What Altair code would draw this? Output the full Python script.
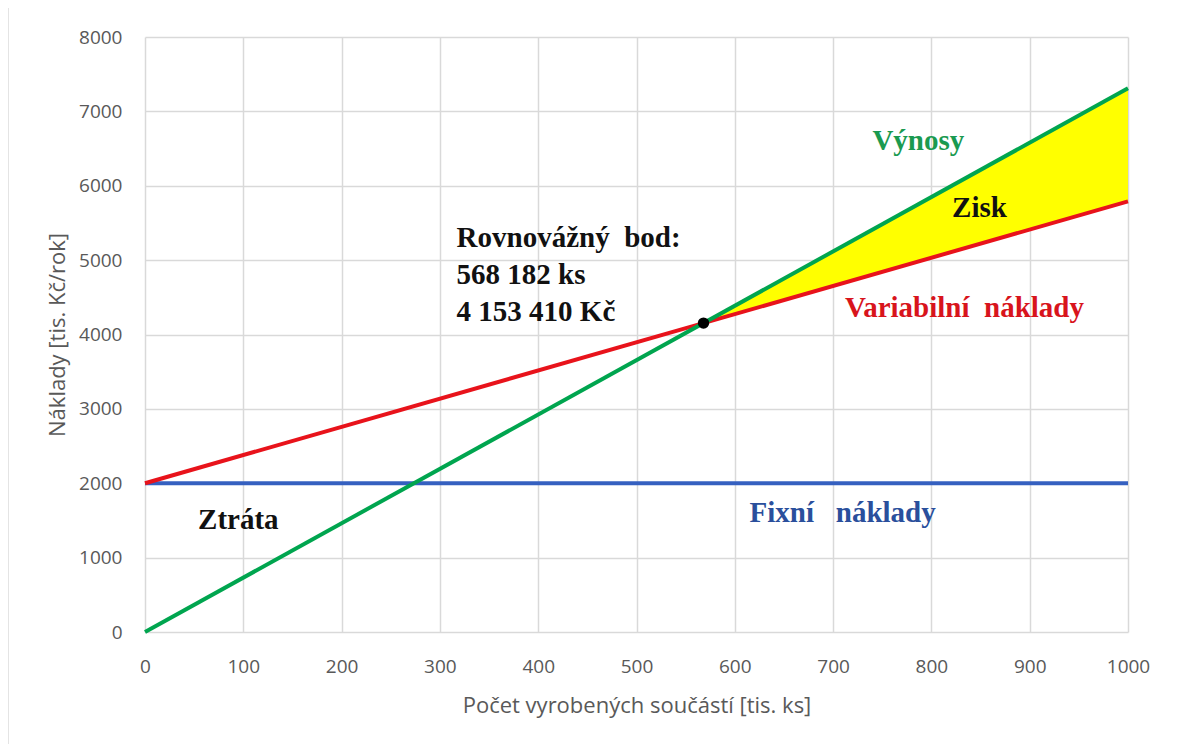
import altair as alt
import pandas as pd

# ---- data ----
x_vals = [0, 1000]                     # počet vyrobených součástí [tis. ks]
fixed_costs = [2000, 2000]             # fixní náklady
total_costs = [2000, 5790]             # variabilní (celkové) náklady
revenues = [0, 7310]                   # výnosy
series_names = ["Fixní náklady", "Variabilní náklady", "Výnosy"]
series_colors = ["#3560C0", "#E8131B", "#00A54F"]

be_x = 568.182                         # rovnovážný bod [tis. ks]
be_y = 4153.41                         # rovnovážný bod [tis. Kč]

profit_x = [be_x, 1000]
profit_rev = [be_y, 7310]
profit_cost = [be_y, 5790]

NB = "\u00a0"
ann_text = ["Výnosy", "Zisk", "Variabilní" + NB + NB + "náklady",
            "Rovnovážný" + NB + NB + "bod:\n568 182 ks\n4 153 410 Kč",
            "Ztráta", "Fixní" + NB + NB + NB + "náklady"]
ann_x = [740, 821, 712, 317, 54, 615]
ann_y = [6480, 5580, 4235, 5176, 1385, 1480]
ann_color = ["#1A9A50", "#111111", "#D8141C", "#111111", "#111111", "#2A4F9C"]

x_ticks = list(range(0, 1001, 100))
y_ticks = list(range(0, 8001, 1000))

# ---- tables ----
rows = []
for name, vals in zip(series_names, [fixed_costs, total_costs, revenues]):
    for xv, yv in zip(x_vals, vals):
        rows.append({"x": xv, "y": yv, "s": name})
lines_df = pd.DataFrame(rows)
profit_df = pd.DataFrame({"x": profit_x, "rev": profit_rev, "cost": profit_cost})
be_df = pd.DataFrame({"x": [be_x], "y": [be_y]})
ann_df = pd.DataFrame({"t": ann_text, "x": ann_x, "y": ann_y, "c": ann_color})

xs = alt.Scale(domain=[0, 1000], nice=False)
ys = alt.Scale(domain=[0, 8000], nice=False)

axis_common = dict(grid=True, gridColor="#d9d9d9", gridWidth=1.5, domain=False,
                   ticks=False, labelColor="#595959", labelFont="Open Sans",
                   labelFontSize=19, titleColor="#595959", titleFont="Open Sans",
                   titleFontSize=22, titleFontWeight="normal", format="d",
                   labelFlush=False, labelOverlap=False)

x_enc = alt.X("x:Q", scale=xs,
              axis=alt.Axis(values=x_ticks, title="Počet vyrobených součástí [tis. ks]",
                            labelPadding=25, titleY=73, titleBaseline="middle",
                            **axis_common))
y_enc = alt.Y("y:Q", scale=ys,
              axis=alt.Axis(values=y_ticks, title="Náklady [tis. Kč/rok]",
                            labelPadding=23, titleX=-88, titleBaseline="middle",
                            **axis_common))

frame = alt.Chart(pd.DataFrame({"a": [0]})).mark_rect(
    fill=None, stroke="#dcdcdc", strokeWidth=1.5, clip=False
).encode(x=alt.value(-137), x2=alt.value(1100), y=alt.value(-30), y2=alt.value(760))

area = alt.Chart(profit_df).mark_area(color="#FFFF00", opacity=1).encode(
    x=alt.X("x:Q", scale=xs), y=alt.Y("rev:Q", scale=ys), y2="cost:Q")

lines = alt.Chart(lines_df).mark_line(strokeWidth=4).encode(
    x=x_enc, y=y_enc,
    color=alt.Color("s:N", scale=alt.Scale(domain=series_names, range=series_colors),
                    legend=None),
    order=alt.Order("x:Q"))

point = alt.Chart(be_df).mark_circle(size=130, color="black", opacity=1).encode(
    x=alt.X("x:Q", scale=xs), y=alt.Y("y:Q", scale=ys))

texts = alt.Chart(ann_df).mark_text(
    align="left", baseline="alphabetic", font="Liberation Serif", fontWeight="bold",
    fontSize=29, lineBreak="\n", lineHeight=37
).encode(x=alt.X("x:Q", scale=xs), y=alt.Y("y:Q", scale=ys),
         text="t:N", color=alt.Color("c:N", scale=None))

chart = alt.layer(frame, area, lines, point, texts).properties(
    width=983, height=595,
    autosize=alt.AutoSizeParams(type="none"),
    padding={"left": 137, "top": 29, "right": 56, "bottom": 112},
    background="white"
).configure_view(stroke=None)

chart.save("out.html", embed_options={"renderer": "svg", "actions": False})
